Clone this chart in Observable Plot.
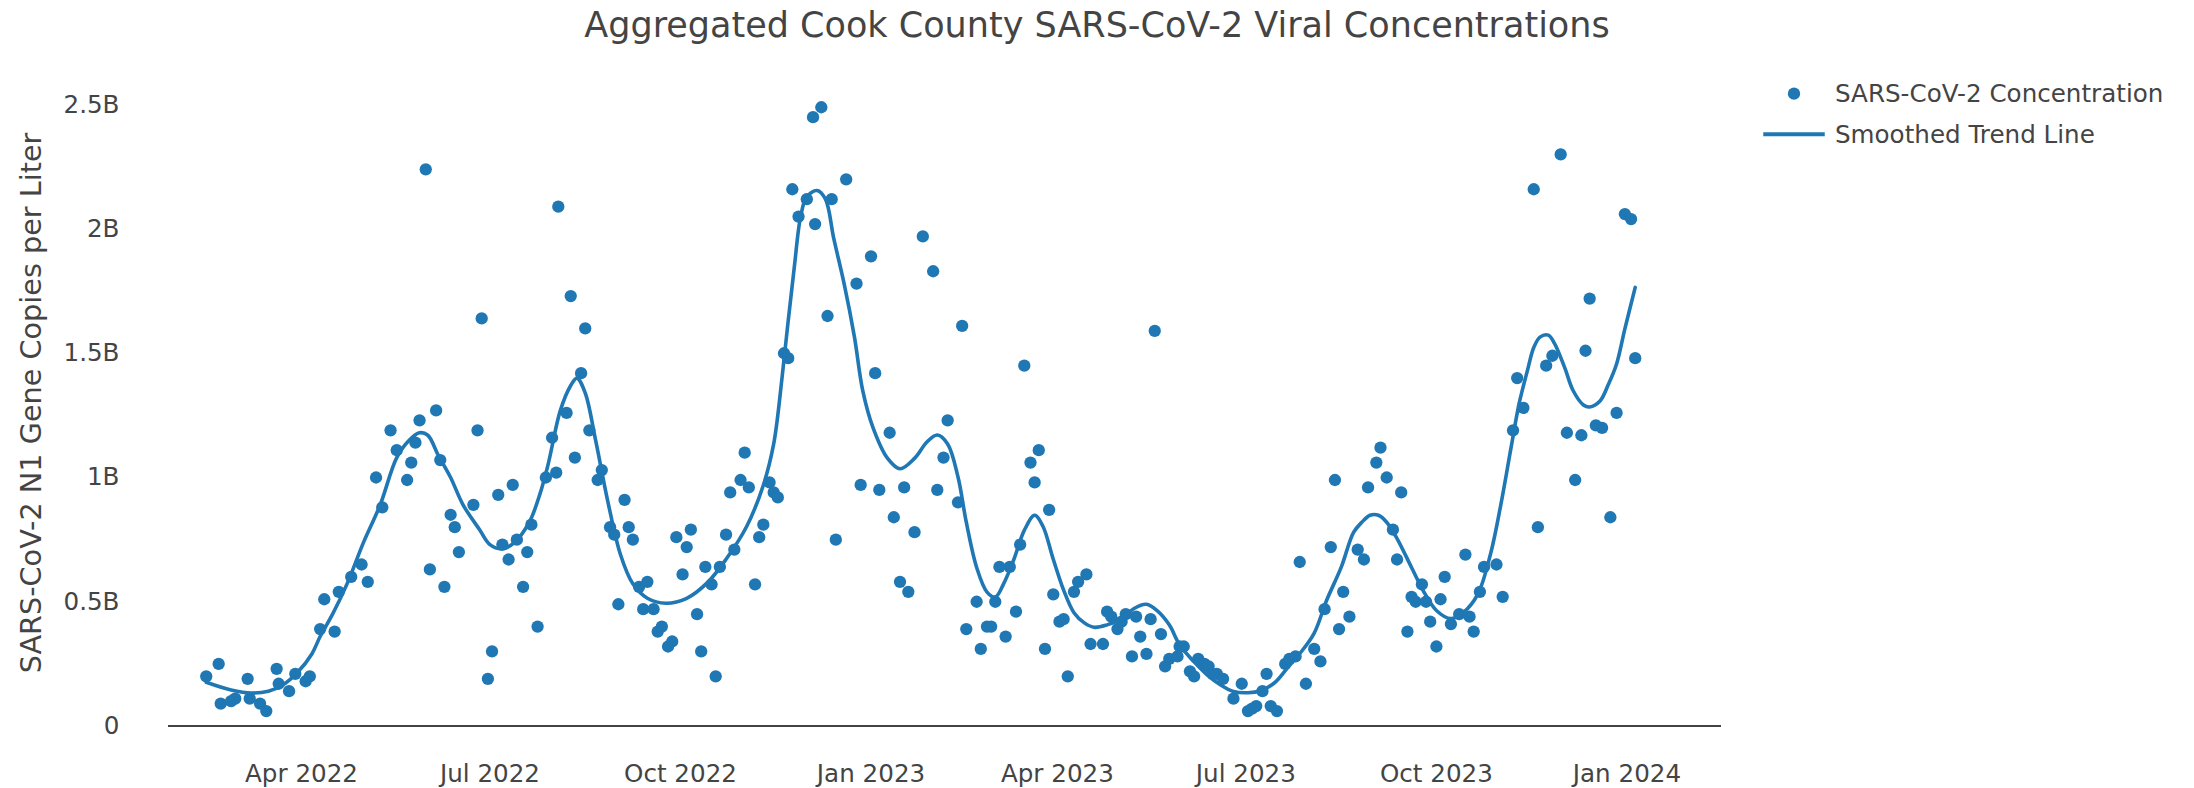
<!DOCTYPE html>
<html><head><meta charset="utf-8">
<script src="https://cdn.jsdelivr.net/npm/d3@7"></script>
<script src="https://cdn.jsdelivr.net/npm/@observablehq/plot@0.6"></script>
<style>
body{margin:0;background:#fff;font-family:"DejaVu Sans",Verdana,sans-serif;}
#wrap{position:relative;width:2194px;height:788px;overflow:hidden;}
#title{height:50px;line-height:50px;text-align:center;font-size:35px;color:#444;white-space:nowrap;}
#legend{position:absolute;left:1753px;top:70px;}
</style></head><body>
<div id="wrap">
<div id="title">Aggregated Cook County SARS-CoV-2 Viral Concentrations</div>
<div id="chart"></div>
<svg id="legend" width="430" height="90" font-family="DejaVu Sans, Verdana, sans-serif" font-size="24.6" fill="#444">
  <circle cx="41" cy="23.7" r="6.15" fill="#1f77b4"></circle>
  <text x="82" y="23.7" dominant-baseline="central">SARS-CoV-2 Concentration</text>
  <line x1="10.25" x2="71.75" y1="64.3" y2="64.3" stroke="#1f77b4" stroke-width="4"></line>
  <text x="82" y="64.3" dominant-baseline="central">Smoothed Trend Line</text>
</svg>
</div>
<script>
// Sample dates and concentrations (billions of N1 gene copies per liter)
const sampleDates = [
"2022-02-14","2022-02-20","2022-02-21","2022-02-26","2022-02-28","2022-03-06","2022-03-07","2022-03-12","2022-03-15","2022-03-20",
"2022-03-21","2022-03-26","2022-03-29","2022-04-03","2022-04-05","2022-04-10","2022-04-12","2022-04-17","2022-04-19","2022-04-25",
"2022-04-30","2022-05-03","2022-05-07","2022-05-10","2022-05-14","2022-05-17","2022-05-22","2022-05-24","2022-05-26","2022-05-28",
"2022-05-31","2022-06-02","2022-06-05","2022-06-07","2022-06-09","2022-06-12","2022-06-14","2022-06-16","2022-06-23","2022-06-25",
"2022-06-27","2022-06-30","2022-07-02","2022-07-05","2022-07-07","2022-07-10","2022-07-12","2022-07-14","2022-07-17","2022-07-19",
"2022-07-21","2022-07-24","2022-07-28","2022-07-31","2022-08-02","2022-08-03","2022-08-07","2022-08-09","2022-08-11","2022-08-14",
"2022-08-16","2022-08-18","2022-08-22","2022-08-24","2022-08-28","2022-08-30","2022-09-01","2022-09-04","2022-09-06","2022-09-08",
"2022-09-11","2022-09-13","2022-09-15","2022-09-18","2022-09-20","2022-09-22","2022-09-25","2022-09-27","2022-09-29","2022-10-02",
"2022-10-04","2022-10-06","2022-10-09","2022-10-11","2022-10-13","2022-10-16","2022-10-18","2022-10-20","2022-10-23","2022-10-25",
"2022-10-27","2022-10-30","2022-11-01","2022-11-03","2022-11-06","2022-11-08","2022-11-10","2022-11-13","2022-11-15","2022-11-17",
"2022-11-20","2022-11-22","2022-11-24","2022-11-27","2022-12-01","2022-12-04","2022-12-05","2022-12-08","2022-12-11","2022-12-13",
"2022-12-15","2022-12-20","2022-12-25","2022-12-27","2023-01-01","2023-01-03","2023-01-05","2023-01-10","2023-01-12","2023-01-15",
"2023-01-17","2023-01-19","2023-01-22","2023-01-26","2023-01-31","2023-02-02","2023-02-05","2023-02-07","2023-02-12","2023-02-14",
"2023-02-16","2023-02-21","2023-02-23","2023-02-26","2023-02-28","2023-03-02","2023-03-04","2023-03-07","2023-03-09","2023-03-12",
"2023-03-14","2023-03-16","2023-03-19","2023-03-21","2023-03-23","2023-03-26","2023-03-28","2023-03-30","2023-04-02","2023-04-04",
"2023-04-06","2023-04-09","2023-04-11","2023-04-15","2023-04-17","2023-04-23","2023-04-25","2023-04-27","2023-04-30","2023-05-02",
"2023-05-04","2023-05-07","2023-05-09","2023-05-11","2023-05-14","2023-05-16","2023-05-18","2023-05-21","2023-05-23","2023-05-25",
"2023-05-29","2023-05-30","2023-06-01","2023-06-04","2023-06-06","2023-06-08","2023-06-11","2023-06-13","2023-06-15","2023-06-17",
"2023-06-20","2023-06-25","2023-06-29","2023-07-02","2023-07-04","2023-07-06","2023-07-09","2023-07-11","2023-07-13","2023-07-16",
"2023-07-20","2023-07-22","2023-07-25","2023-07-27","2023-07-30","2023-08-03","2023-08-06","2023-08-08","2023-08-11","2023-08-13",
"2023-08-15","2023-08-17","2023-08-20","2023-08-24","2023-08-27","2023-08-29","2023-09-02","2023-09-04","2023-09-07","2023-09-10",
"2023-09-12","2023-09-14","2023-09-17","2023-09-19","2023-09-21","2023-09-24","2023-09-26","2023-09-28","2023-10-01","2023-10-03",
"2023-10-05","2023-10-08","2023-10-12","2023-10-15","2023-10-17","2023-10-19","2023-10-22","2023-10-24","2023-10-30","2023-11-02",
"2023-11-07","2023-11-09","2023-11-12","2023-11-17","2023-11-19","2023-11-23","2023-11-26","2023-11-30","2023-12-03","2023-12-07",
"2023-12-10","2023-12-12","2023-12-14","2023-12-17","2023-12-20","2023-12-24","2023-12-27","2023-12-31","2024-01-03","2024-01-05"
];
const sampleValues = [
0.20,0.25,0.09,0.10,0.11,0.19,0.11,0.09,0.06,0.23,
0.17,0.14,0.21,0.18,0.20,0.39,0.51,0.38,0.54,0.60,
0.65,0.58,1.00,0.88,1.19,1.11,0.99,1.06,1.14,1.23,
2.24,0.63,1.27,1.07,0.56,0.85,0.80,0.70,0.89,1.19,
1.64,0.19,0.30,0.93,0.73,0.67,0.97,0.75,0.56,0.70,
0.81,0.40,1.00,1.16,1.02,2.09,1.26,1.73,1.08,1.42,
1.60,1.19,0.99,1.03,0.80,0.77,0.49,0.91,0.80,0.75,
0.56,0.47,0.58,0.47,0.38,0.40,0.32,0.34,0.76,0.61,
0.72,0.79,0.45,0.30,0.64,0.57,0.20,0.64,0.77,0.94,
0.71,0.99,1.10,0.96,0.57,0.76,0.81,0.98,0.94,0.92,
1.50,1.48,2.16,2.05,2.12,2.45,2.02,2.49,1.65,2.12,
0.75,2.20,1.78,0.97,1.89,1.42,0.95,1.18,0.84,0.58,
0.96,0.54,0.78,1.97,1.83,0.95,1.08,1.23,0.90,1.61,
0.39,0.50,0.31,0.40,0.40,0.50,0.64,0.36,0.64,0.46,
0.73,1.45,1.06,0.98,1.11,0.31,0.87,0.53,0.42,0.43,
0.20,0.54,0.58,0.61,0.33,0.33,0.46,0.44,0.39,0.42,
0.45,0.28,0.44,0.36,0.29,0.43,1.59,0.37,0.24,0.27,
0.28,0.32,0.32,0.22,0.20,0.27,0.25,0.24,0.21,0.21,
0.19,0.11,0.17,0.06,0.07,0.08,0.14,0.21,0.08,0.06,
0.25,0.27,0.28,0.66,0.17,0.31,0.26,0.47,0.72,0.99,
0.39,0.54,0.44,0.71,0.67,0.96,1.06,1.12,1.00,0.79,
0.67,0.94,0.38,0.52,0.50,0.57,0.50,0.42,0.32,0.51,
0.60,0.41,0.45,0.69,0.44,0.38,0.54,0.64,0.65,0.52,
1.19,1.40,1.28,2.16,0.80,1.45,1.49,2.30,1.18,0.99,
1.17,1.51,1.72,1.21,1.20,0.84,1.26,2.06,2.04,1.48
];
// Smoothed trend line (billions)
const trendDates = [
"2022-02-14","2022-02-26","2022-03-08","2022-03-16","2022-03-23","2022-03-30","2022-04-06","2022-04-10","2022-04-16","2022-04-23",
"2022-05-01","2022-05-09","2022-05-17","2022-05-23","2022-05-28","2022-06-01","2022-06-06","2022-06-12","2022-06-18","2022-06-26",
"2022-07-01","2022-07-07","2022-07-13","2022-07-20","2022-07-25","2022-07-29","2022-08-04","2022-08-09","2022-08-12","2022-08-16",
"2022-08-21","2022-08-27","2022-09-02","2022-09-08","2022-09-15","2022-09-24","2022-10-04","2022-10-14","2022-10-23","2022-11-02",
"2022-11-10","2022-11-15","2022-11-19","2022-11-22","2022-11-25","2022-11-28","2022-12-01","2022-12-06","2022-12-10","2022-12-14",
"2022-12-19","2022-12-24","2022-12-28","2023-01-02","2023-01-09","2023-01-15","2023-01-22","2023-01-28","2023-02-02","2023-02-07",
"2023-02-12","2023-02-16","2023-02-21","2023-02-26","2023-03-02","2023-03-06","2023-03-11","2023-03-16","2023-03-21","2023-03-25",
"2023-03-30","2023-04-04","2023-04-09","2023-04-14","2023-04-19","2023-04-25","2023-05-02","2023-05-08","2023-05-14","2023-05-19",
"2023-05-25","2023-05-30","2023-06-06","2023-06-12","2023-06-19","2023-06-25","2023-07-02","2023-07-08","2023-07-15","2023-07-21",
"2023-07-27","2023-08-03","2023-08-09","2023-08-16","2023-08-22","2023-08-26","2023-08-30","2023-09-03","2023-09-07","2023-09-12",
"2023-09-19","2023-09-25","2023-10-01","2023-10-08","2023-10-14","2023-10-21","2023-10-27","2023-11-01","2023-11-06","2023-11-10",
"2023-11-14","2023-11-17","2023-11-20","2023-11-24","2023-11-27","2023-12-02","2023-12-06","2023-12-11","2023-12-14","2023-12-19",
"2023-12-23","2023-12-27","2023-12-31","2024-01-05"
];
const trendValues = [
0.176,0.145,0.133,0.14,0.165,0.215,0.29,0.36,0.45,0.572,
0.74,0.89,1.08,1.15,1.18,1.17,1.09,1.00,0.89,0.79,
0.73,0.713,0.74,0.82,0.93,1.05,1.27,1.37,1.40,1.34,
1.15,0.90,0.69,0.572,0.514,0.494,0.514,0.577,0.671,0.804,
0.969,1.135,1.399,1.63,1.85,2.05,2.13,2.155,2.12,1.962,
1.78,1.565,1.35,1.20,1.077,1.035,1.077,1.143,1.171,1.135,
1.002,0.82,0.638,0.539,0.519,0.572,0.671,0.787,0.848,0.804,
0.671,0.547,0.456,0.415,0.397,0.407,0.432,0.473,0.49,0.465,
0.407,0.327,0.258,0.208,0.164,0.139,0.134,0.142,0.175,0.233,
0.291,0.374,0.506,0.638,0.779,0.82,0.848,0.848,0.82,0.754,
0.638,0.539,0.465,0.432,0.457,0.531,0.688,0.886,1.118,1.30,
1.432,1.523,1.565,1.573,1.540,1.441,1.35,1.292,1.284,1.308,
1.374,1.457,1.598,1.765
];
const xTickDates = ["2022-04-01","2022-07-01","2022-10-01","2023-01-01","2023-04-01","2023-07-01","2023-10-01","2024-01-01"];
const xTickLabels = ["Apr 2022","Jul 2022","Oct 2022","Jan 2023","Apr 2023","Jul 2023","Oct 2023","Jan 2024"];
const yTicks = [0, 0.5, 1, 1.5, 2, 2.5];
const yTickLabels = ["0","0.5B","1B","1.5B","2B","2.5B"];
const yTitle = "SARS-CoV-2 N1 Gene Copies per Liter";

const points = sampleDates.map((d, i) => ({date: new Date(d), value: sampleValues[i]}));
const trend = trendDates.map((d, i) => ({date: new Date(d), value: trendValues[i]}));
const xTicks = xTickDates.map(d => new Date(d));
const xLabel = new Map(xTicks.map((d, i) => [+d, xTickLabels[i]]));
const yLabel = new Map(yTicks.map((d, i) => [d, yTickLabels[i]]));

const chart = Plot.plot({
  width: 2194,
  height: 738,
  marginLeft: 168,
  marginRight: 473,
  marginTop: 29.4,
  marginBottom: 62.5,
  style: {fontFamily: "DejaVu Sans, Verdana, sans-serif", fontSize: "24.6px", color: "#444", background: "white", overflow: "visible"},
  x: {type: "utc", domain: [new Date("2022-01-26T18:43Z"), new Date("2024-02-15T15:50Z")]},
  y: {domain: [0, 2.6]},
  marks: [
    Plot.axisX({ticks: xTicks, tickFormat: d => xLabel.get(+d), tickSize: 0, tickPadding: 39, label: null, fontSize: 24.6, color: "#444"}),
    Plot.axisY({ticks: yTicks, tickFormat: d => yLabel.get(d), tickSize: 0, tickPadding: 49, label: null, fontSize: 24.6, color: "#444"}),
    Plot.ruleY([0], {stroke: "#444", strokeWidth: 2}),
    Plot.dot(points, {x: "date", y: "value", r: 6.15, fill: "#1f77b4"}),
    Plot.line(trend, {x: "date", y: "value", stroke: "#1f77b4", strokeWidth: 3.6, curve: "catmull-rom"}),
    Plot.text([yTitle], {frameAnchor: "left", text: d => d, rotate: -90, dx: -137, textAnchor: "middle", lineAnchor: "middle", fontSize: 28.7, fill: "#444"})
  ]
});
document.getElementById("chart").appendChild(chart);
</script>
</body></html>
